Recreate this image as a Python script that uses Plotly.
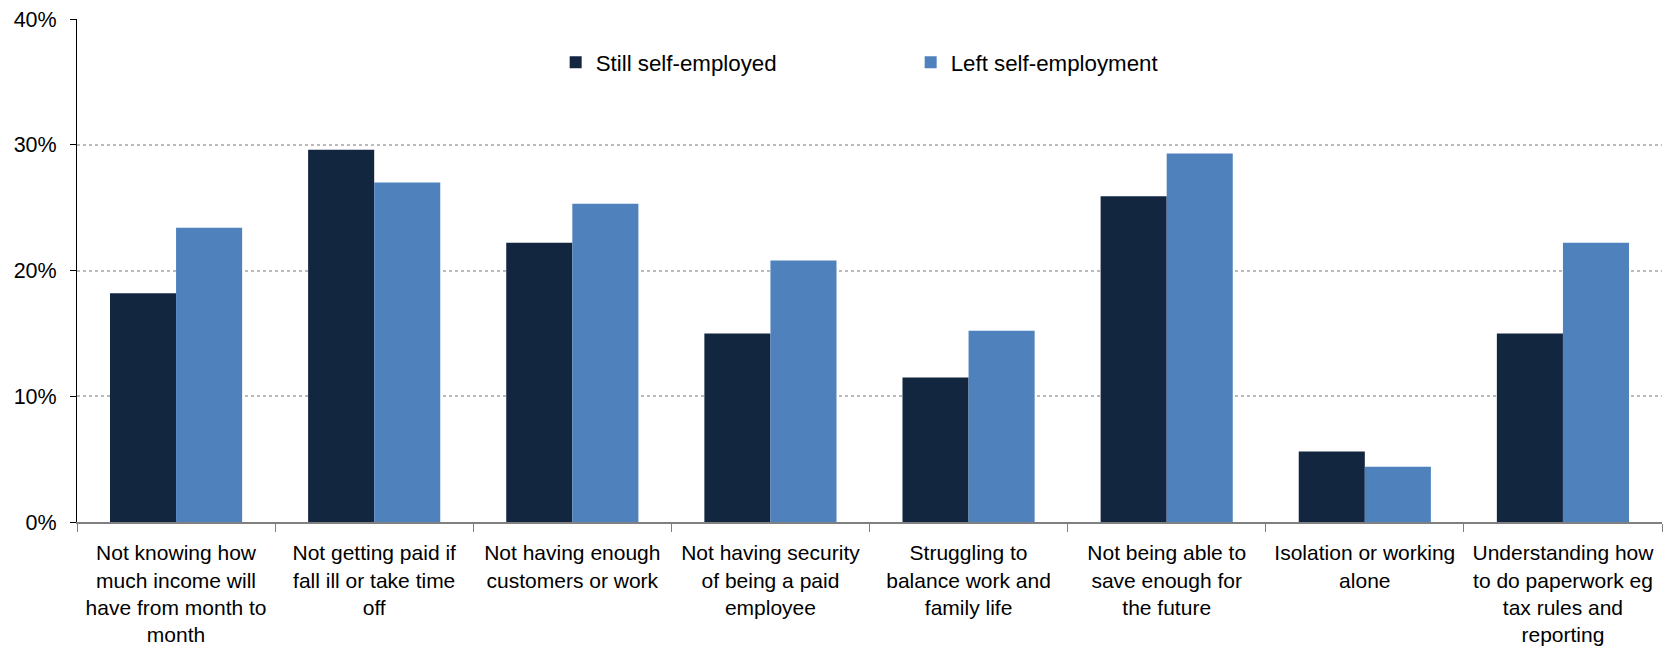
import plotly.graph_objects as go

categories = [
    "Not knowing how<br>much income will<br>have from month to<br>month",
    "Not getting paid if<br>fall ill or take time<br>off",
    "Not having enough<br>customers or work",
    "Not having security<br>of being a paid<br>employee",
    "Struggling to<br>balance work and<br>family life",
    "Not being able to<br>save enough for<br>the future",
    "Isolation or working<br>alone",
    "Understanding how<br>to do paperwork eg<br>tax rules and<br>reporting",
]
still_self_employed = [18.2, 29.6, 22.2, 15.0, 11.5, 25.9, 5.6, 15.0]
left_self_employment = [23.4, 27.0, 25.3, 20.8, 15.2, 29.3, 4.4, 22.2]
y_ticks = [0, 10, 20, 30, 40]
y_tick_labels = ["0%", "10%", "20%", "30%", "40%"]

FONT = "Liberation Sans, Arial, sans-serif"

fig = go.Figure()
fig.add_trace(go.Bar(name="Still self-employed", x=categories, y=still_self_employed,
                     marker=dict(color="#12263F", line=dict(width=0))))
fig.add_trace(go.Bar(name="Left self-employment", x=categories, y=left_self_employment,
                     marker=dict(color="#4F81BD", line=dict(width=0))))

fig.update_layout(
    width=1669, height=647,
    margin=dict(l=77, r=7, t=19, b=125, autoexpand=False),
    paper_bgcolor="white", plot_bgcolor="white",
    barmode="group", bargap=0.333, bargroupgap=0,
    font=dict(family=FONT, size=21.5, color="black"),
    legend=dict(orientation="h", x=0.302, y=0.914, xanchor="left", yanchor="middle",
                entrywidth=310, font=dict(size=22.3), itemwidth=30,
                bgcolor="rgba(0,0,0,0)"),
    showlegend=True,
)
fig.update_xaxes(
    showline=True, linecolor="#808080", linewidth=2, automargin=False,
    ticks="outside", tickson="boundaries", ticklen=8, tickcolor="#808080",
    tickfont=dict(size=21, family=FONT), showgrid=False, ticklabelstandoff=11,
)
fig.update_yaxes(
    range=[0, 40], tickvals=y_ticks, ticktext=y_tick_labels, automargin=False,
    showline=True, linecolor="black", linewidth=1,
    ticks="outside", ticklen=6, tickcolor="black", ticklabelstandoff=9,
    showgrid=True, gridcolor="#BBBBBB", griddash="dot", gridwidth=2,
    tickfont=dict(size=21.5, family=FONT), zeroline=False,
)

fig.write_html(
    "out.html",
    config={"displayModeBar": False},
    post_script="document.body.style.margin='0';document.body.style.overflow='hidden';",
)
